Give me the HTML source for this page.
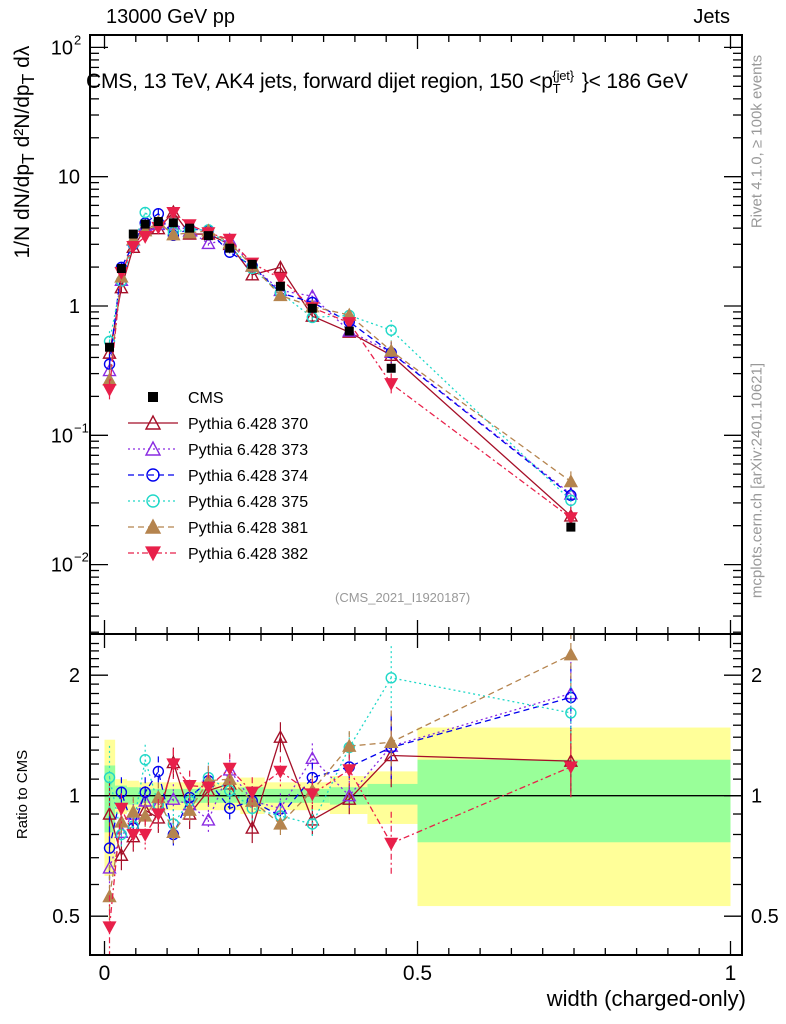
<!DOCTYPE html>
<html><head><meta charset="utf-8"><style>
html,body{margin:0;padding:0;background:#fff;}
svg{display:block;font-family:"Liberation Sans",sans-serif;}
</style></head><body>
<svg id="c" width="786" height="1024" viewBox="0 0 786 1024"></svg>
<script>
const xs = [0.008,0.027,0.046,0.065,0.086,0.11,0.136,0.166,0.2,0.236,0.281,0.332,0.391,0.458,0.745];
const edges = [0,0.017,0.036,0.055,0.075,0.097,0.123,0.15,0.183,0.217,0.256,0.306,0.36,0.42,0.5,1];
const cms = [0.48,1.95,3.6,4.3,4.5,4.4,4.0,3.5,2.8,2.1,1.42,0.96,0.64,0.33,0.0195];
const yelUp = [1.38,1.10,1.09,1.08,1.08,1.08,1.08,1.08,1.08,1.11,1.08,1.08,1.12,1.15,1.48];
const yelDn = [0.63,0.90,0.91,0.92,0.92,0.92,0.92,0.92,0.92,0.90,0.92,0.92,0.90,0.85,0.53];
const grnUp = [1.19,1.06,1.05,1.04,1.04,1.04,1.04,1.04,1.04,1.05,1.04,1.04,1.05,1.07,1.23];
const grnDn = [0.81,0.94,0.95,0.96,0.96,0.96,0.96,0.96,0.96,0.95,0.96,0.96,0.95,0.95,0.765];
const r370 = [0.90,0.71,0.79,0.92,0.88,1.21,0.90,1.03,1.07,0.83,1.40,0.87,0.98,1.26,1.22];
const r373 = [0.66,0.81,0.90,0.97,0.95,0.98,0.95,0.87,1.16,0.97,0.93,1.24,1.00,1.33,1.80];
const r374 = [0.74,1.02,0.83,1.02,1.15,0.80,0.99,1.09,0.93,0.97,0.89,1.11,1.18,1.32,1.76];
const r375 = [1.11,0.80,0.84,1.23,0.95,0.85,0.97,1.11,1.03,0.93,0.89,0.85,1.32,1.97,1.61];
const r381 = [0.56,0.86,0.91,0.89,0.99,0.81,0.92,1.09,1.10,0.97,0.85,1.03,1.33,1.36,2.25];
const r382 = [0.47,0.93,0.80,0.80,0.90,1.20,1.06,1.05,1.17,1.02,1.15,1.01,1.16,0.76,1.18];
const legendLabels = ["CMS","Pythia 6.428 370","Pythia 6.428 373","Pythia 6.428 374","Pythia 6.428 375","Pythia 6.428 381","Pythia 6.428 382"];

const NS="http://www.w3.org/2000/svg";
const svg=document.getElementById('c');
function el(tag,attrs,parent){const e=document.createElementNS(NS,tag);for(const k in attrs)e.setAttribute(k,attrs[k]);(parent||svg).appendChild(e);return e;}
const L=90,R=742,T=35,MB=634,B=955;
const X=v=>104.5+626*v;
const Ym=v=>306-129.3*Math.log10(v);
const Yr=v=>795.7-120.5*Math.log2(v);

const bands=el('g',{});


for(let i=0;i<xs.length;i++){
  const x0=X(edges[i]),x1=X(edges[i+1]);
  const ry=el('rect',{x:x0,y:Yr(yelUp[i]),width:x1-x0,height:Yr(yelDn[i])-Yr(yelUp[i]),fill:'#ffff99'},bands);
  
  
  const rg=el('rect',{x:x0,y:Yr(grnUp[i]),width:x1-x0,height:Yr(grnDn[i])-Yr(grnUp[i]),fill:'#99ff99'},bands);
  
  
}
el('line',{x1:L,x2:R,y1:Yr(1),y2:Yr(1),stroke:'#000','stroke-width':1.3});

const series=[
 {r:r370,c:'#a50f28',d:'',m:'tri',f:false},
 {r:r373,c:'#8a2be2',d:'2,3',m:'tri',f:false},
 {r:r374,c:'#0000ee',d:'6,4',m:'circ',f:false},
 {r:r375,c:'#20d8c8',d:'2,3',m:'circ',f:false},
 {r:r381,c:'#b5844e',d:'6,4',m:'tri',f:true},
 {r:r382,c:'#e8204a',d:'6,3,2,3',m:'dtri',f:true}
];
function marker(g,m,x,y,c,f,s){
  s=s||5;
  if(m==='sq')return el('rect',{x:x-s,y:y-s,width:2*s,height:2*s,fill:'#000'},g);
  if(m==='circ')return el('circle',{cx:x,cy:y,r:s,fill:'none',stroke:c,'stroke-width':1.4},g);
  if(m==='tri')return el('polygon',{points:`${x},${y-s-1} ${x-s-1},${y+s} ${x+s+1},${y+s}`,fill:f?c:'#fff','fill-opacity':f?1:0,stroke:c,'stroke-width':1.4},g);
  if(m==='dtri')return el('polygon',{points:`${x},${y+s+1} ${x-s-1},${y-s} ${x+s+1},${y-s}`,fill:c,stroke:c,'stroke-width':1.2},g);
}
const clipM=el('clipPath',{id:'cm'});el('rect',{x:L,y:T,width:R-L,height:MB-T},clipM);
const clipR=el('clipPath',{id:'cr'});el('rect',{x:L,y:MB,width:R-L,height:B-MB},clipR);
const gm=el('g',{'clip-path':'url(#cm)'});


const gr=el('g',{'clip-path':'url(#cr)'});


series.forEach((s,k)=>{
  const g1=el('g',{},gm);
  
  
  const g2=el('g',{},gr);
  
  
  const pm=xs.map((x,i)=>X(x)+','+Ym(cms[i]*s.r[i])).join(' ');
  const pr=xs.map((x,i)=>X(x)+','+Yr(s.r[i])).join(' ');
  el('polyline',{points:pm,fill:'none',stroke:s.c,'stroke-width':1.3,'stroke-dasharray':s.d},g1);
  el('polyline',{points:pr,fill:'none',stroke:s.c,'stroke-width':1.3,'stroke-dasharray':s.d},g2);
  xs.forEach((x,i)=>{
    const v=cms[i]*s.r[i], e=(i===0||i>=13)?0.2:0.09;
    el('line',{x1:X(x),x2:X(x),y1:Ym(v*(1+e)),y2:Ym(v/(1+e)),stroke:s.c,'stroke-width':1.2,'stroke-dasharray':s.d},g1);
    el('line',{x1:X(x),x2:X(x),y1:Yr(s.r[i]*(1+e)),y2:Yr(s.r[i]/(1+e)),stroke:s.c,'stroke-width':1.2,'stroke-dasharray':s.d},g2);
    const p1=marker(g1,s.m,X(x),Ym(v),s.c,s.f);
    
    
    const p2=marker(g2,s.m,X(x),Yr(s.r[i]),s.c,s.f);
    
    
  });
});
const gc=el('g',{},gm);


xs.forEach((x,i)=>{
  const p=marker(gc,'sq',X(x),Ym(cms[i]),'#000',true,4.5);
  
  
});

el('rect',{x:L,y:T,width:R-L,height:MB-T,fill:'none',stroke:'#000','stroke-width':2});
el('rect',{x:L,y:MB,width:R-L,height:B-MB,fill:'none',stroke:'#000','stroke-width':2});
for(let v=0;v<=1.0001;v+=0.05){
  const big=Math.round(v*100)%50===0;
  const len=big?14:7;
  [[T,1],[MB,-1],[MB,1],[B,-1]].forEach(([y,d])=>el('line',{x1:X(v),x2:X(v),y1:y,y2:y+d*len,stroke:'#000','stroke-width':1.3}));
}
const xt=['0','0.5','1'];
xt.forEach((t,i)=>{const e=el('text',{x:X(i*0.5),y:980,'font-size':21,'text-anchor':'middle'});e.textContent=t;
});
for(let d=-3;d<=2;d++)for(let m=1;m<10;m++){
  const v=m*Math.pow(10,d),y=Ym(v); if(y<T||y>MB)continue;
  const len=m===1?18:9;
  el('line',{x1:L,x2:L+len,y1:y,y2:y,stroke:'#000','stroke-width':1.3});
  el('line',{x1:R,x2:R-len,y1:y,y2:y,stroke:'#000','stroke-width':1.3});
}
const ymTicks=[[0.01,'10','−2'],[0.1,'10','−1'],[1,'1',''],[10,'10',''],[100,'10','2']];
ymTicks.forEach(([v,b,e])=>{
  const t=el('text',{x:e?73:80,y:Ym(v)+7,'font-size':20,'text-anchor':'end'});
  t.textContent=b;
  
  if(e){const s=el('text',{x:74,y:Ym(v)-3,'font-size':13});s.textContent=e;}
});
for(let v=0.4;v<=2.5;v+=0.1){
  const y=Yr(v);if(y<MB||y>B)continue;
  const big=Math.abs(v-0.5)<1e-6||Math.abs(v-1)<1e-6||Math.abs(v-2)<1e-6;
  const len=big?18:9;
  el('line',{x1:L,x2:L+len,y1:y,y2:y,stroke:'#000','stroke-width':1.3});
  el('line',{x1:R,x2:R-len,y1:y,y2:y,stroke:'#000','stroke-width':1.3});
}
[[2,'2'],[1,'1'],[0.5,'0.5']].forEach(([v,t])=>{
  const a=el('text',{x:80,y:Yr(v)+7,'font-size':20,'text-anchor':'end'});a.textContent=t;
  
  const b=el('text',{x:751,y:Yr(v)+7,'font-size':20});b.textContent=t;
  
});

legendLabels.forEach((lab,k)=>{
  const y=397+26*k;
  const g=el('g',{});
  
  
  if(k===0){marker(g,'sq',153,y,'#000',true,5);}
  else{const s=series[k-1];
    el('line',{x1:128,x2:178,y1:y,y2:y,stroke:s.c,'stroke-width':1.3,'stroke-dasharray':s.d},g);
    marker(g,s.m,153,y,s.c,s.f,6);}
  const t=el('text',{x:188,y:y+6,'font-size':16},g);t.textContent=lab;
});
</script>
<div style="position:absolute;left:0;top:0;width:786px;height:1024px;pointer-events:none;font-family:'Liberation Sans',sans-serif;">
<div style="position:absolute;left:106px;top:6px;font-size:20px;">13000 GeV pp</div>
<div style="position:absolute;right:56px;top:6px;font-size:20px;">Jets</div>
<div style="position:absolute;left:86px;top:68px;font-size:21px;white-space:nowrap;letter-spacing:-0.2px;">CMS, 13 TeV, AK4 jets, forward dijet region, 150 &lt;p<sub style="font-size:13px">T</sub><sup style="font-size:13px;position:relative;left:-8px;">{jet}</sup>}&lt; 186 GeV</div>
<div style="position:absolute;left:335px;top:590px;font-size:13px;color:#999;">(CMS_2021_I1920187)</div>
<div style="position:absolute;right:40px;top:986px;font-size:22px;">width (charged-only)</div>
<div style="position:absolute;left:-22px;top:786px;font-size:15px;transform:rotate(-90deg);white-space:nowrap;">Ratio to CMS</div>
<div style="position:absolute;left:-125px;top:138px;width:300px;font-size:21px;transform:rotate(-90deg);white-space:nowrap;text-align:center;">1/N dN/dp<sub>T</sub> d²N/dp<sub>T</sub> dλ</div>
<div style="position:absolute;left:647px;top:133px;width:220px;font-size:15px;color:#999;transform:rotate(-90deg);white-space:nowrap;text-align:center;">Rivet 4.1.0, ≥ 100k events</div>
<div style="position:absolute;left:607px;top:472px;width:300px;font-size:15px;color:#999;transform:rotate(-90deg);white-space:nowrap;text-align:center;">mcplots.cern.ch [arXiv:2401.10621]</div>
</div>
</body></html>
